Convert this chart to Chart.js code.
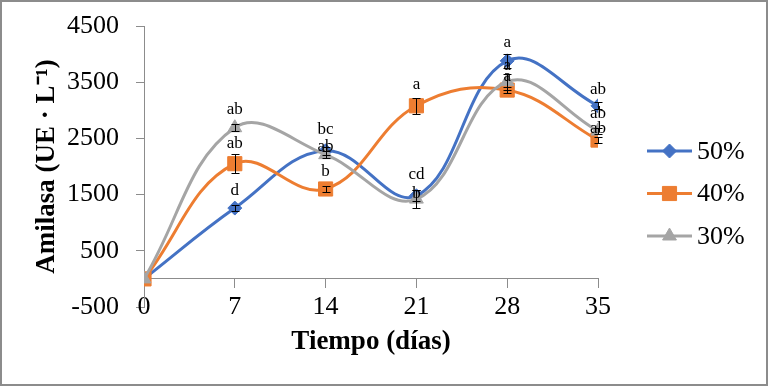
<!DOCTYPE html>
<html>
<head>
<meta charset="utf-8">
<script src="https://cdn.jsdelivr.net/npm/chart.js@4/dist/chart.umd.min.js"></script>
<style>
  html, body { margin: 0; padding: 0; background: #fff; }
  #wrap { width: 769px; height: 387px; }
</style>
</head>
<body>
<div id="wrap"><canvas id="grafik" width="769" height="387"></canvas></div>
<script>
// data
const dias = [0, 7, 14, 21, 28, 35];
const yTicks = [-500, 500, 1500, 2500, 3500, 4500];

const nama = ['50%', '40%', '30%'];
const amilasa50 = [0, 1260, 2280, 1480, 3880, 3080];
const amilasa40 = [0, 2050, 1600, 3080, 3360, 2470];
const amilasa30 = [0, 2690, 2210, 1420, 3510, 2630];

const galat50 = [0, 50, 70, 100, 130, 60];
const galat40 = [0, 170, 50, 140, 60, 50];
const galat30 = [0, 60, 60, 160, 140, 60];

const huruf50 = ['', 'd', 'bc', 'cd', 'a', 'ab'];
const huruf40 = ['', 'ab', 'b', 'a', 'a', 'ab'];
const huruf30 = ['', 'ab', 'ab', 'b', 'a', 'ab'];

// label vertical offsets in px (styling only)
const geser50 = [0, -18, -21, -21, -18, -16];
const geser40 = [0, -20, -17, -21, -14, -12];
const geser30 = [0, -18, -8, -6, -16, -18];

const warna = ['#4472C4', '#ED7D31', '#A5A5A5'];
const bentuk = ['rectRot', 'rect', 'triangle'];
const ukuran = [7, 10, 8];

const serif = "'Liberation Serif', 'Times New Roman', serif";

function titik(arr) {
  return arr.map((v, i) => ({ x: dias[i], y: v }));
}

const seri = [amilasa50, amilasa40, amilasa30];
const galat = [galat50, galat40, galat30];
const huruf = [huruf50, huruf40, huruf30];
const geser = [geser50, geser40, geser30];

const data = {
  datasets: seri.map((s, k) => ({
    label: nama[k],
    data: titik(s),
    borderColor: warna[k],
    backgroundColor: warna[k],
    borderWidth: 3,
    tension: 0.4,
    pointStyle: bentuk[k],
    pointRadius: ukuran[k],
    pointBorderWidth: 1,
    order: 3 - k,
  }))
};

// error bars + letters
const galatPlugin = {
  id: 'galat',
  afterDatasetsDraw(chart) {
    const ctx = chart.ctx;
    const ys = chart.scales.y;
    ctx.save();
    ctx.strokeStyle = '#000';
    ctx.lineWidth = 1;
    chart.data.datasets.forEach((ds, k) => {
      const meta = chart.getDatasetMeta(k);
      meta.data.forEach((pt, i) => {
        const e = galat[k][i];
        if (!e) return;
        const v = seri[k][i];
        const top = Math.round(ys.getPixelForValue(v + e)) + 0.5;
        const bot = Math.round(ys.getPixelForValue(v - e)) + 0.5;
        const x = Math.round(pt.x) + 0.5;
        ctx.beginPath();
        ctx.moveTo(x, top); ctx.lineTo(x, bot);
        ctx.moveTo(x - 4, top); ctx.lineTo(x + 4, top);
        ctx.moveTo(x - 4, bot); ctx.lineTo(x + 4, bot);
        ctx.stroke();
      });
    });
    ctx.fillStyle = '#000';
    ctx.font = '17px ' + serif;
    ctx.textAlign = 'center';
    ctx.textBaseline = 'middle';
    chart.data.datasets.forEach((ds, k) => {
      const meta = chart.getDatasetMeta(k);
      meta.data.forEach((pt, i) => {
        const t = huruf[k][i];
        if (!t) return;
        ctx.fillText(t, pt.x, pt.y + geser[k][i]);
      });
    });
    ctx.restore();
  }
};

// legend with line + marker, and the outer frame
const legendaPlugin = {
  id: 'legenda',
  afterDraw(chart) {
    const ctx = chart.ctx;
    ctx.save();
    nama.forEach((n, k) => {
      const y = 151 + 42.5 * k;
      ctx.strokeStyle = warna[k];
      ctx.lineWidth = 3;
      ctx.beginPath();
      ctx.moveTo(647, y); ctx.lineTo(692, y);
      ctx.stroke();
      ctx.fillStyle = warna[k];
      ctx.lineWidth = 1;
      Chart.helpers.drawPoint(ctx, { pointStyle: bentuk[k], radius: ukuran[k], rotation: 0, borderWidth: 1 }, 669.5, y);
      ctx.fillStyle = '#000';
      ctx.font = '26px ' + serif;
      ctx.textAlign = 'left';
      ctx.textBaseline = 'middle';
      ctx.fillText(n, 697, y + 1);
    });
    ctx.strokeStyle = '#8c8c8c';
    ctx.lineWidth = 2;
    ctx.strokeRect(1, 1, 766, 384);
    ctx.restore();
  }
};

const config = {
  type: 'line',
  data: data,
  options: {
    responsive: false,
    animation: false,
    layout: {
      padding: { left: 0, top: 26, right: 171, bottom: 80 }
    },
    scales: {
      x: {
        type: 'linear',
        position: { y: 0 },
        min: 0,
        max: 35,
        afterBuildTicks(scale) {
          scale.ticks = dias.map(v => ({ value: v }));
        },
        afterFit(scale) { scale.height = 80; },
        border: { color: '#8c8c8c', width: 1 },
        grid: { drawOnChartArea: false, drawTicks: true, tickLength: 9, color: '#8c8c8c' },
        ticks: {
          color: '#000', padding: 4, font: { family: serif, size: 26 },
          callback: v => String(v)
        },
        title: {
          display: true,
          text: 'Tiempo (días)',
          color: '#000',
          padding: { top: 0, bottom: 1 },
          font: { family: serif, size: 27, weight: 'bold' }
        }
      },
      y: {
        min: -500,
        max: 4500,
        afterBuildTicks(scale) {
          scale.ticks = yTicks.map(v => ({ value: v }));
        },
        afterFit(scale) {
          scale.width = 144;
          scale.paddingTop = 0;
          scale.paddingBottom = 0;
        },
        border: { color: '#8c8c8c', width: 1 },
        grid: { drawOnChartArea: false, drawTicks: true, tickLength: 8, color: '#8c8c8c' },
        ticks: {
          color: '#000', padding: 17, font: { family: serif, size: 26 },
          callback: v => String(v)
        },
        title: {
          display: true,
          text: 'Amilasa (UE · L⁻¹)',
          color: '#000',
          padding: { top: 31, bottom: 0 },
          font: { family: serif, size: 27, weight: 'bold' }
        }
      }
    },
    plugins: {
      legend: { display: false },
      tooltip: { enabled: false }
    }
  },
  plugins: [galatPlugin, legendaPlugin]
};

const grafik = new Chart(document.getElementById('grafik'), config);
</script>
</body>
</html>
